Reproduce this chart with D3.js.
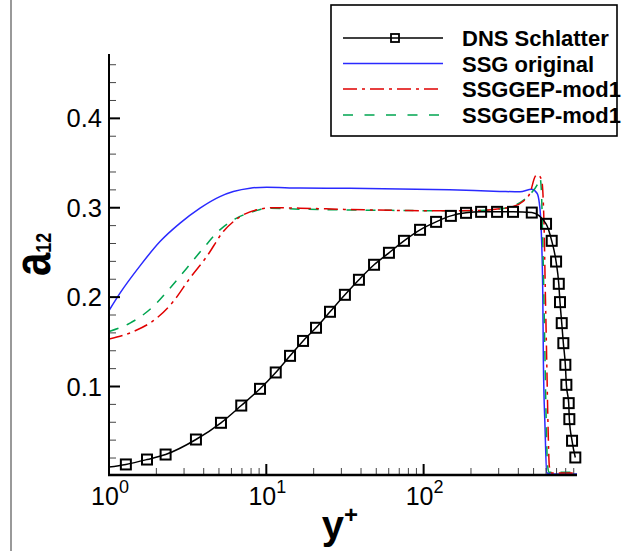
<!DOCTYPE html>
<html><head><meta charset="utf-8">
<script src="https://cdn.jsdelivr.net/npm/d3@7/dist/d3.min.js"></script>
<style>
html,body{margin:0;padding:0;background:#fff;}
svg{display:block;}
text{font-family:"Liberation Sans",Arial,Helvetica,sans-serif;}
</style></head>
<body>
<svg id="chart" width="622" height="551"></svg>
<script>
// ---- data ----
const seriesNames = ["DNS Schlatter", "SSG original", "SSGGEP-mod1", "SSGGEP-mod1"];

const dnsYplus = [0.9, 1.28, 1.744, 2.29, 3.57, 5.15, 6.93, 9.12, 11.48, 14.15, 17.12, 20.7, 25.4, 31.6, 38.8, 48.4, 60.2, 75.0, 94.9, 120, 149, 186, 232, 293, 370, 487, 600, 652, 695, 723, 736, 755, 773, 796, 808, 836, 844, 878, 921];
const dnsA12   = [0.0088, 0.0128, 0.0183, 0.0239, 0.0407, 0.0594, 0.0787, 0.0974, 0.1157, 0.1343, 0.151, 0.1657, 0.1836, 0.2026, 0.2194, 0.2362, 0.2496, 0.263, 0.2753, 0.2842, 0.2909, 0.2943, 0.2954, 0.2954, 0.2954, 0.2946, 0.282, 0.263, 0.2398, 0.2149, 0.1944, 0.1709, 0.1485, 0.1243, 0.1019, 0.0814, 0.0635, 0.0393, 0.0206];

const ssgYplus = [1.0, 1.175, 1.574, 2.11, 2.83, 3.79, 5.07, 6.17, 7.88, 10.06, 16.4, 34.0, 70.6, 146, 305, 410, 487, 526, 544, 558, 572, 577, 591, 606, 650, 944];
const ssgA12   = [0.185, 0.2045, 0.235, 0.2622, 0.2828, 0.2996, 0.3125, 0.3181, 0.3219, 0.323, 0.322, 0.3217, 0.3211, 0.320, 0.3183, 0.3178, 0.3206, 0.3162, 0.305, 0.279, 0.2048, 0.1299, 0.0553, 0.0035, 0.002, 0.002];

const mod1aYplus = [1.0, 1.43, 2.01, 2.56, 3.27, 4.18, 5.33, 6.82, 8.71, 11.1, 16.4, 34.0, 70.6, 146, 228, 305, 370, 428, 474, 512, 530, 563, 583, 594, 606, 618, 630, 652, 944];
const mod1aA12   = [0.153, 0.1615, 0.1765, 0.195, 0.2213, 0.2454, 0.2734, 0.290, 0.2977, 0.300, 0.2995, 0.298, 0.297, 0.2965, 0.297, 0.2988, 0.3013, 0.307, 0.3163, 0.335, 0.337, 0.331, 0.2788, 0.2046, 0.1297, 0.055, 0.0103, 0.0032, 0.0032];

const mod1bYplus = [1.0, 1.36, 1.91, 2.44, 3.12, 3.98, 5.07, 6.48, 8.26, 10.06, 16.4, 34.0, 70.6, 146, 228, 305, 370, 428, 474, 525, 550, 560, 574, 587, 600, 612, 625, 944];
const mod1bA12   = [0.1615, 0.1709, 0.1895, 0.210, 0.2324, 0.2548, 0.2753, 0.2884, 0.2957, 0.2995, 0.2984, 0.2975, 0.297, 0.2965, 0.297, 0.2985, 0.302, 0.308, 0.315, 0.325, 0.333, 0.32, 0.25, 0.16, 0.07, 0.015, 0.004, 0.004];

const xMajorTicks = [1, 10, 100];
const xTickExponents = ["0", "1", "2"];
const yMajorTicks = [0.1, 0.2, 0.3, 0.4];
const yTickLabels = ["0.1", "0.2", "0.3", "0.4"];

// ---- layout ----
const svg = d3.select("#chart");
const L = 109, R = 577, T = 54, B = 475;
const x = d3.scaleLog().domain([1, 944]).range([L, R]);
const y = d3.scaleLinear().domain([0.001, 0.472]).range([B, T]);

// outer frame line (left)
svg.append("line").attr("x1", 11).attr("x2", 11).attr("y1", 0).attr("y2", 551)
  .attr("stroke", "#555").attr("stroke-width", 1.2);

svg.append("clipPath").attr("id", "clip").append("rect")
  .attr("x", L).attr("y", T - 10).attr("width", R - L + 8).attr("height", B - T + 10);

const zip = (xs, ys) => xs.map((v, i) => [v, ys[i]]);
const lineGen = d3.line().x(d => x(d[0])).y(d => y(d[1])).curve(d3.curveMonotoneX);

const plot = svg.append("g").attr("clip-path", "url(#clip)");

const series = [
  {pts: zip(ssgYplus, ssgA12), color: "#2a2aff", dash: null, w: 1.5},
  {pts: zip(mod1bYplus, mod1bA12), color: "#00a550", dash: "10,9", w: 1.5},
  {pts: zip(mod1aYplus, mod1aA12), color: "#e00000", dash: "14,5,3,5", w: 1.5},
  {pts: zip(dnsYplus, dnsA12), color: "#000", dash: null, w: 1.5}
];
series.forEach(s => {
  plot.append("path").datum(s.pts).attr("d", lineGen)
    .attr("fill", "none").attr("stroke", s.color).attr("stroke-width", s.w)
    .attr("stroke-dasharray", s.dash);
});
plot.selectAll("rect.mk").data(zip(dnsYplus, dnsA12)).join("rect").attr("class", "mk")
  .attr("x", d => x(d[0]) - 5).attr("y", d => y(d[1]) - 5)
  .attr("width", 10).attr("height", 10)
  .attr("fill", "none").attr("stroke", "#000").attr("stroke-width", 2);

// ---- axes ----
const ax = svg.append("g");
const yMinor = d3.range(0.02, 0.4701, 0.02).filter(v => Math.abs(v * 10 - Math.round(v * 10)) > 1e-6);
ax.selectAll("line.ymin").data(yMinor).join("line")
  .attr("x1", L).attr("x2", L + 7).attr("y1", d => y(d)).attr("y2", d => y(d))
  .attr("stroke", "#444").attr("stroke-width", 1);
ax.selectAll("line.ymaj").data(yMajorTicks).join("line")
  .attr("x1", L).attr("x2", L + 11).attr("y1", d => y(d)).attr("y2", d => y(d))
  .attr("stroke", "#000").attr("stroke-width", 2);
ax.selectAll("text.ylab").data(yMajorTicks).join("text")
  .attr("x", 102).attr("y", d => y(d) + 9).attr("text-anchor", "end")
  .attr("font-size", 25.5).text((d, i) => yTickLabels[i]);

const xMinor = [];
[1, 10, 100].forEach(dec => { for (let k = 2; k <= 9; k++) { if (dec * k <= 944) xMinor.push(dec * k); } });
ax.selectAll("line.xmin").data(xMinor).join("line")
  .attr("x1", d => x(d)).attr("x2", d => x(d)).attr("y1", B).attr("y2", B - 7)
  .attr("stroke", "#444").attr("stroke-width", 1);
ax.selectAll("line.xmaj").data(xMajorTicks).join("line")
  .attr("x1", d => x(d)).attr("x2", d => x(d)).attr("y1", B).attr("y2", B - 11)
  .attr("stroke", "#000").attr("stroke-width", 2);
const xl = ax.selectAll("text.xlab").data(xMajorTicks).join("text")
  .attr("x", d => x(d) + 1).attr("y", 505).attr("text-anchor", "middle").attr("font-size", 25);
xl.append("tspan").text("10");
xl.append("tspan").attr("font-size", 18).attr("dy", -12).text((d, i) => xTickExponents[i]);

ax.append("line").attr("x1", L).attr("x2", L).attr("y1", T).attr("y2", B + 1)
  .attr("stroke", "#000").attr("stroke-width", 2);
ax.append("line").attr("x1", L - 1).attr("x2", R).attr("y1", B).attr("y2", B)
  .attr("stroke", "#000").attr("stroke-width", 2.5);

// axis titles
const xt = svg.append("text").attr("x", 340).attr("y", 539).attr("text-anchor", "middle")
  .attr("font-weight", "bold").attr("font-size", 40);
xt.append("tspan").text("y");
xt.append("tspan").attr("font-size", 24).attr("dy", -16).text("+");

const yt = svg.append("text").attr("transform", "translate(50,276) rotate(-90) scale(1.05,1.3)")
  .attr("text-anchor", "start").attr("font-weight", "bold").attr("font-size", 40);
yt.append("tspan").text("a");
yt.append("tspan").attr("font-size", 17).attr("dy", 1).text("12");

// ---- legend ----
const lg = svg.append("g");
lg.append("rect").attr("x", 331).attr("y", 5).attr("width", 286).attr("height", 131)
  .attr("fill", "#fff").attr("stroke", "#000").attr("stroke-width", 1.6);
const rowsY = [38, 63.5, 89, 115];
const legendStyles = [
  {color: "#000", dash: null, marker: true},
  {color: "#2a2aff", dash: null, marker: false},
  {color: "#e00000", dash: "14,5,3,5", marker: false},
  {color: "#00a550", dash: "10,11.5", marker: false}
];
seriesNames.forEach((name, i) => {
  const st = legendStyles[i];
  lg.append("line").attr("x1", 343).attr("x2", 443).attr("y1", rowsY[i]).attr("y2", rowsY[i])
    .attr("stroke", st.color).attr("stroke-width", 1.6).attr("stroke-dasharray", st.dash);
  if (st.marker) {
    lg.append("rect").attr("x", 395 - 4).attr("y", rowsY[i] - 4).attr("width", 8).attr("height", 8)
      .attr("fill", "none").attr("stroke", "#000").attr("stroke-width", 1.8);
  }
  lg.append("text").attr("x", 462).attr("y", rowsY[i] + 8).attr("font-size", 22)
    .attr("font-weight", "bold").text(name);
});
</script>
</body></html>
